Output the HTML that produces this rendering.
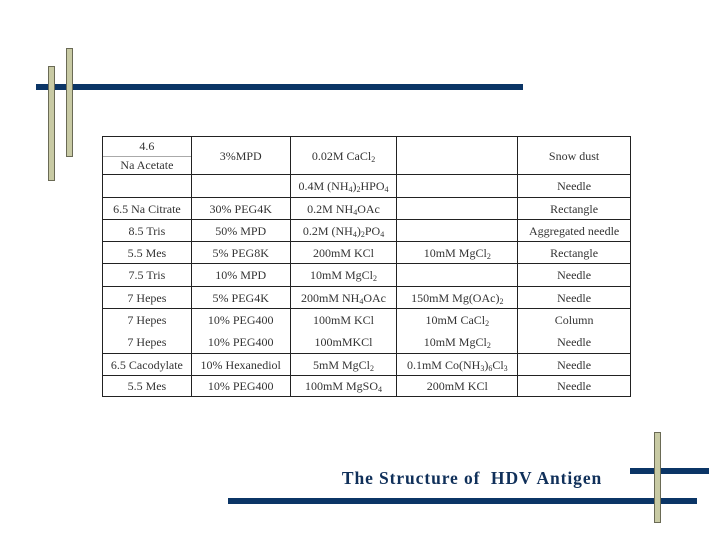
<!DOCTYPE html>
<html><head><meta charset="utf-8"><style>
body{margin:0;width:720px;height:540px;background:#fff;position:relative;overflow:hidden;font-family:"Liberation Serif",serif}
.n{position:absolute;background:#0b3566}
.b{position:absolute;background:#c8caa4;border:1px solid #6a6a55;box-sizing:border-box}
table{position:absolute;left:102px;top:136px;width:529px;border-collapse:collapse;font-size:12px;color:#333}
td{border:1px solid #222;text-align:center;padding:0;line-height:14px;white-space:nowrap}
td.d{line-height:22px}
sub{font-size:8px;vertical-align:-2px;line-height:0}
</style></head><body>
<div class="n" style="left:36px;top:84px;width:487px;height:6px"></div>
<div class="b" style="left:48px;top:66px;width:7px;height:115px"></div>
<div class="b" style="left:66px;top:48px;width:7px;height:109px"></div>
<div class="n" style="left:228px;top:498px;width:469px;height:6px"></div>
<div class="n" style="left:630px;top:468px;width:79px;height:6px"></div>
<div class="b" style="left:654px;top:432px;width:7px;height:91px"></div>
<div style="position:absolute;left:272px;top:468px;width:400px;text-align:center;font-weight:bold;font-size:17.5px;letter-spacing:0.9px;color:#10305a">The Structure of&nbsp; HDV Antigen</div>
<table>
<colgroup><col style="width:89px"><col style="width:99px"><col style="width:107px"><col style="width:121px"><col style="width:113px"></colgroup>
<tr style="height:37px"><td><div style="border-bottom:1px solid #aaa;height:19px;line-height:19px">4.6</div><div style="height:17px;line-height:17px">Na Acetate</div></td><td>3%MPD</td><td>0.02M CaCl<sub>2</sub></td><td></td><td>Snow dust</td></tr>
<tr style="height:23px"><td></td><td></td><td>0.4M (NH<sub>4</sub>)<sub>2</sub>HPO<sub>4</sub></td><td></td><td>Needle</td></tr>
<tr style="height:22px"><td>6.5 Na Citrate</td><td>30% PEG4K</td><td>0.2M NH<sub>4</sub>OAc</td><td></td><td>Rectangle</td></tr>
<tr style="height:22px"><td>8.5 Tris</td><td>50% MPD</td><td>0.2M (NH<sub>4</sub>)<sub>2</sub>PO<sub>4</sub></td><td></td><td>Aggregated needle</td></tr>
<tr style="height:22px"><td>5.5 Mes</td><td>5% PEG8K</td><td>200mM KCl</td><td>10mM MgCl<sub>2</sub></td><td>Rectangle</td></tr>
<tr style="height:23px"><td>7.5 Tris</td><td>10% MPD</td><td>10mM MgCl<sub>2</sub></td><td></td><td>Needle</td></tr>
<tr style="height:22px"><td>7 Hepes</td><td>5% PEG4K</td><td>200mM NH<sub>4</sub>OAc</td><td>150mM Mg(OAc)<sub>2</sub></td><td>Needle</td></tr>
<tr style="height:45px"><td class="d">7 Hepes<br>7 Hepes</td><td class="d">10% PEG400<br>10% PEG400</td><td class="d">100mM KCl<br>100mMKCl</td><td class="d">10mM CaCl<sub>2</sub><br>10mM MgCl<sub>2</sub></td><td class="d">Column<br>Needle</td></tr>
<tr style="height:22px"><td>6.5 Cacodylate</td><td>10% Hexanediol</td><td>5mM MgCl<sub>2</sub></td><td>0.1mM Co(NH<sub>3</sub>)<sub>6</sub>Cl<sub>3</sub></td><td>Needle</td></tr>
<tr style="height:21px"><td>5.5 Mes</td><td>10% PEG400</td><td>100mM MgSO<sub>4</sub></td><td>200mM KCl</td><td>Needle</td></tr>
</table>
</body></html>
